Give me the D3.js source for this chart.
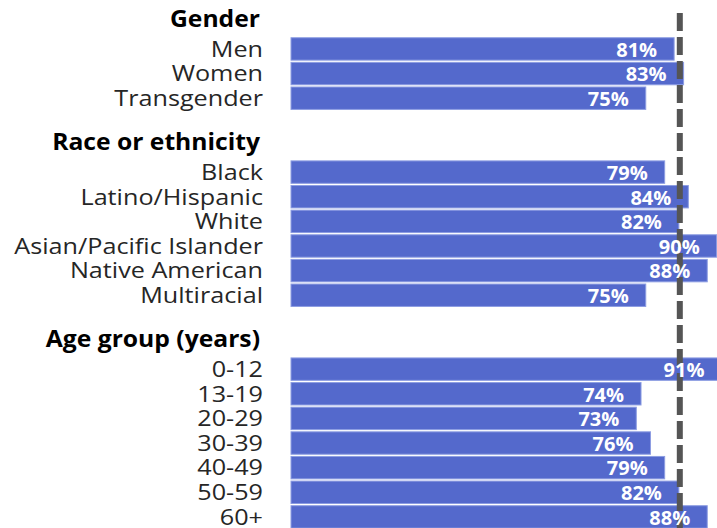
<!DOCTYPE html>
<html>
<head>
<meta charset="utf-8">
<script src="https://cdn.jsdelivr.net/npm/d3@7"></script>
<style>
  body { margin: 0; background: #fff; }
  text { font-family: "Open Sans", "Noto Sans", sans-serif; }
</style>
</head>
<body>
<div class="chart"></div>
<script>
// groups, rows and values
var groups = ["Gender", "Race or ethnicity", "Age group (years)"];
var genderLabels = ["Men", "Women", "Transgender"];
var genderValues = [81, 83, 75];
var raceLabels = ["Black", "Latino/Hispanic", "White", "Asian/Pacific Islander", "Native American", "Multiracial"];
var raceValues = [79, 84, 82, 90, 88, 75];
var ageLabels = ["0-12", "13-19", "20-29", "30-39", "40-49", "50-59", "60+"];
var ageValues = [91, 74, 73, 76, 79, 82, 88];
var overall = 82.2;

var svgWidth = 717,
    svgHeight = 528;

// build one row list: header, bars, blank spacer between groups
var rows = [];
[[genderLabels, genderValues], [raceLabels, raceValues], [ageLabels, ageValues]].forEach(function(g, gi) {
    if (gi > 0) rows.push({ id: "blank" + gi, type: "blank" });
    rows.push({ id: "head" + gi, type: "header", label: groups[gi] });
    g[0].forEach(function(l, i) {
        rows.push({ id: "row" + gi + "_" + i, type: "bar", label: l, value: g[1][i] });
    });
});

var svg = d3.select(".chart")
    .append("svg")
    .attr("width", svgWidth)
    .attr("height", svgHeight);

var x = d3.scaleLinear().domain([0, 100]).range([291, 764]);
var y = d3.scaleBand()
    .domain(rows.map(function(d) { return d.id; }))
    .range([12, 12 + 24.63 * rows.length])
    .paddingInner(0.09)
    .paddingOuter(0.045);

var bars = rows.filter(function(d) { return d.type === "bar"; });
var heads = rows.filter(function(d) { return d.type === "header"; });

svg.selectAll(".bar")
    .data(bars)
    .enter().append("rect")
    .attr("class", "bar")
    .attr("x", x(0))
    .attr("y", function(d) { return y(d.id); })
    .attr("width", function(d) { return x(d.value) - x(0); })
    .attr("height", y.bandwidth())
    .attr("fill", "#5469cc")
    .attr("stroke", "#8d9de2")
    .attr("stroke-width", 1);

// category labels (slightly widened, the original font runs wide)
svg.selectAll(".cat")
    .data(bars)
    .enter().append("text")
    .attr("class", "cat")
    .attr("transform", function(d) {
        return "translate(263," + (y(d.id) + y.bandwidth() / 2 + 7.8) + ") scale(1.12,1)";
    })
    .attr("text-anchor", "end")
    .attr("fill", "#262626")
    .style("font-size", "22.5px")
    .text(function(d) { return d.label; });

// group headers
svg.selectAll(".head")
    .data(heads)
    .enter().append("text")
    .attr("class", "head")
    .attr("transform", function(d) {
        return "translate(260," + (y(d.id) + y.bandwidth() / 2 + 2.5) + ") scale(1.05,1)";
    })
    .attr("text-anchor", "end")
    .attr("fill", "#000")
    .style("font-size", "23.5px")
    .style("font-weight", "bold")
    .text(function(d) { return d.label; });

// overall reference line
svg.append("line")
    .attr("x1", x(overall))
    .attr("x2", x(overall))
    .attr("y1", 13)
    .attr("y2", svgHeight)
    .attr("stroke", "#555")
    .attr("stroke-width", 6)
    .attr("stroke-dasharray", "18,6");

// value labels inside bars
svg.selectAll(".val")
    .data(bars)
    .enter().append("text")
    .attr("class", "val")
    .attr("x", function(d) { return x(d.value) - 17; })
    .attr("y", function(d) { return y(d.id) + y.bandwidth() / 2 + 7.8; })
    .attr("text-anchor", "end")
    .attr("fill", "#fff")
    .style("font-size", "20px")
    .style("font-weight", "bold")
    .text(function(d) { return d.value + "%"; });
</script>
</body>
</html>
